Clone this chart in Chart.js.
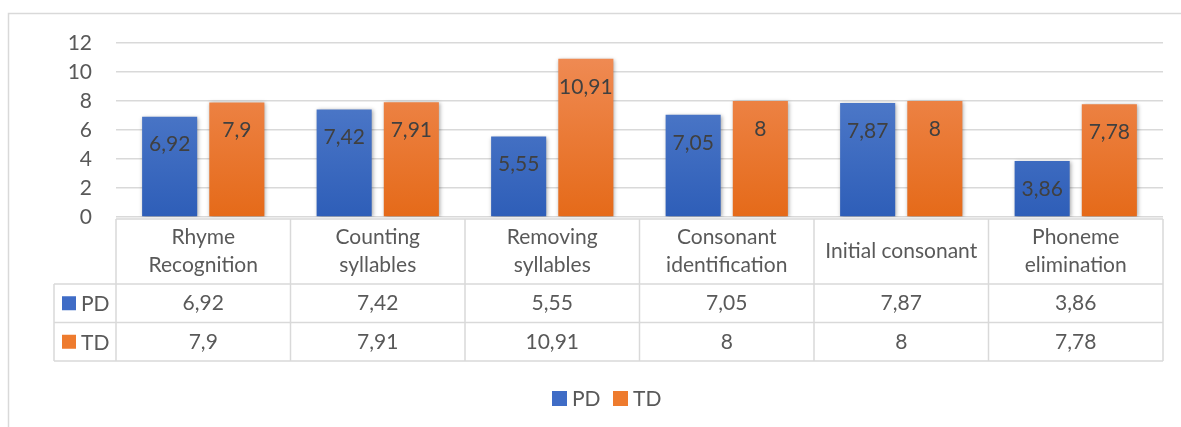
<!DOCTYPE html>
<html>
<head>
<meta charset="utf-8">
<script src="https://cdn.jsdelivr.net/npm/chart.js@4.4.1/dist/chart.umd.min.js"></script>
<style>
  html, body { margin: 0; padding: 0; background: #ffffff; }
  #wrap { position: relative; width: 1181px; height: 427px; }
</style>
</head>
<body>
<div id="wrap"><canvas id="chart" width="1181" height="427"></canvas></div>
<script>
// Task categories (header row of the data table, split into lines)
const categories = [
  ['Rhyme', 'Recognition'],
  ['Counting', 'syllables'],
  ['Removing', 'syllables'],
  ['Consonant', 'identification'],
  ['Initial consonant'],
  ['Phoneme', 'elimination']
];
const seriesNames = ['PD', 'TD'];
const pdValues = [6.92, 7.42, 5.55, 7.05, 7.87, 3.86];
const tdValues = [7.9, 7.91, 10.91, 8, 8, 7.78];
const yTicks = [0, 2, 4, 6, 8, 10, 12];

const FONT = 'Lato, "Open Sans", sans-serif';
const TEXT = '#595959';
const LINE = '#D9D9D9';
const fmt = v => String(v).replace('.', ',');

function gradient(chart, top, bottom) {
  const { ctx, chartArea } = chart;
  if (!chartArea) return bottom;
  const g = ctx.createLinearGradient(0, chartArea.top, 0, chartArea.bottom);
  g.addColorStop(0, top);
  g.addColorStop(1, bottom);
  return g;
}

const swatch = ['#3F6CC6', '#EE7B2E'];

// Frame, data labels, data table and bottom legend
const extras = {
  id: 'extras',
  beforeDraw(chart) {
    const ctx = chart.ctx;
    ctx.save();
    ctx.fillStyle = '#ffffff';
    ctx.fillRect(0, 0, chart.width, chart.height);
    ctx.strokeStyle = LINE;
    ctx.lineWidth = 1.5;
    ctx.beginPath();
    ctx.moveTo(8.5, chart.height);
    ctx.lineTo(8.5, 13.5);
    ctx.lineTo(chart.width, 13.5);
    ctx.stroke();
    ctx.restore();
  },
  beforeDatasetsDraw(chart) {
    chart.ctx.save();
    chart.ctx.shadowColor = 'rgba(0,0,0,0.35)';
    chart.ctx.shadowBlur = 4;
    chart.ctx.shadowOffsetX = 1;
    chart.ctx.shadowOffsetY = 1;
  },
  afterDatasetsDraw(chart) {
    const ctx = chart.ctx;
    ctx.restore();
    // values inside the top of each bar
    ctx.save();
    ctx.font = '21px ' + FONT;
    ctx.fillStyle = '#404040';
    ctx.textAlign = 'center';
    ctx.textBaseline = 'middle';
    chart.data.datasets.forEach((ds, di) => {
      chart.getDatasetMeta(di).data.forEach((bar, i) => {
        ctx.fillText(fmt(ds.data[i]), bar.x, bar.y + 28);
      });
    });
    ctx.restore();

    // data table under the plot
    const area = chart.chartArea;
    const xs = chart.scales.x;
    const colW = (area.right - area.left) / categories.length;
    const top = area.bottom + 2;
    const headH = 65, rowH = 38.5;
    const keyLeft = 54;
    const rows = [top, top + headH, top + headH + rowH, top + headH + 2 * rowH];

    ctx.save();
    ctx.strokeStyle = LINE;
    ctx.lineWidth = 1.5;
    ctx.beginPath();
    // horizontal lines
    ctx.moveTo(area.left, rows[0]); ctx.lineTo(area.right, rows[0]);
    for (let r = 1; r < rows.length; r++) {
      ctx.moveTo(keyLeft, rows[r]); ctx.lineTo(area.right, rows[r]);
    }
    // vertical lines
    for (let c = 0; c <= categories.length; c++) {
      const x = c < categories.length ? xs.getPixelForValue(c) - colW / 2 : area.right;
      ctx.moveTo(x, rows[0]); ctx.lineTo(x, rows[3]);
    }
    ctx.moveTo(keyLeft, rows[1]); ctx.lineTo(keyLeft, rows[3]);
    ctx.stroke();

    ctx.font = '21px ' + FONT;
    ctx.fillStyle = TEXT;
    ctx.textAlign = 'center';
    ctx.textBaseline = 'middle';
    categories.forEach((lines, i) => {
      const cx = xs.getPixelForValue(i);
      const mid = rows[0] + headH / 2;
      const lh = 28;
      lines.forEach((t, k) => {
        ctx.fillText(t, cx, mid + (k - (lines.length - 1) / 2) * lh);
      });
      ctx.fillText(fmt(pdValues[i]), cx, rows[1] + rowH / 2);
      ctx.fillText(fmt(tdValues[i]), cx, rows[2] + rowH / 2);
    });
    // series keys in the table
    ctx.textAlign = 'left';
    seriesNames.forEach((name, s) => {
      const cy = rows[1 + s] + rowH / 2;
      ctx.fillStyle = swatch[s];
      ctx.fillRect(62, cy - 7, 14, 14);
      ctx.fillStyle = TEXT;
      ctx.fillText(name, 81, cy + 1);
    });

    // bottom legend
    const ly = 398;
    let lx = 552;
    seriesNames.forEach((name, s) => {
      ctx.fillStyle = swatch[s];
      ctx.fillRect(lx, ly - 7, 15, 15);
      ctx.fillStyle = TEXT;
      ctx.fillText(name, lx + 20, ly + 1);
      lx += 61;
    });
    ctx.restore();
  }
};

new Chart(document.getElementById('chart'), {
  type: 'bar',
  data: {
    labels: categories.map(c => c.join(' ')),
    datasets: [
      {
        label: seriesNames[0],
        data: pdValues,
        backgroundColor: ctx => gradient(ctx.chart, '#5B84CF', '#2E5EB8')
      },
      {
        label: seriesNames[1],
        data: tdValues,
        backgroundColor: ctx => gradient(ctx.chart, '#F08D58', '#E56A19')
      }
    ]
  },
  options: {
    responsive: false,
    animation: false,
    devicePixelRatio: 1,
    layout: { padding: { left: 0, right: 18, top: 43, bottom: 210 } },
    datasets: { bar: { categoryPercentage: 0.77, barPercentage: 0.82 } },
    scales: {
      x: { display: false },
      y: {
        min: 0,
        max: 12,
        afterBuildTicks: s => { s.ticks = yTicks.map(v => ({ value: v })); },
        afterFit: s => { s.width = 116; },
        border: { display: false },
        grid: { color: LINE, lineWidth: 1.5, drawTicks: false },
        ticks: { color: TEXT, font: { family: FONT, size: 21 }, padding: 24 }
      }
    },
    plugins: { legend: { display: false }, tooltip: { enabled: false } }
  },
  plugins: [extras]
});
</script>
</body>
</html>
